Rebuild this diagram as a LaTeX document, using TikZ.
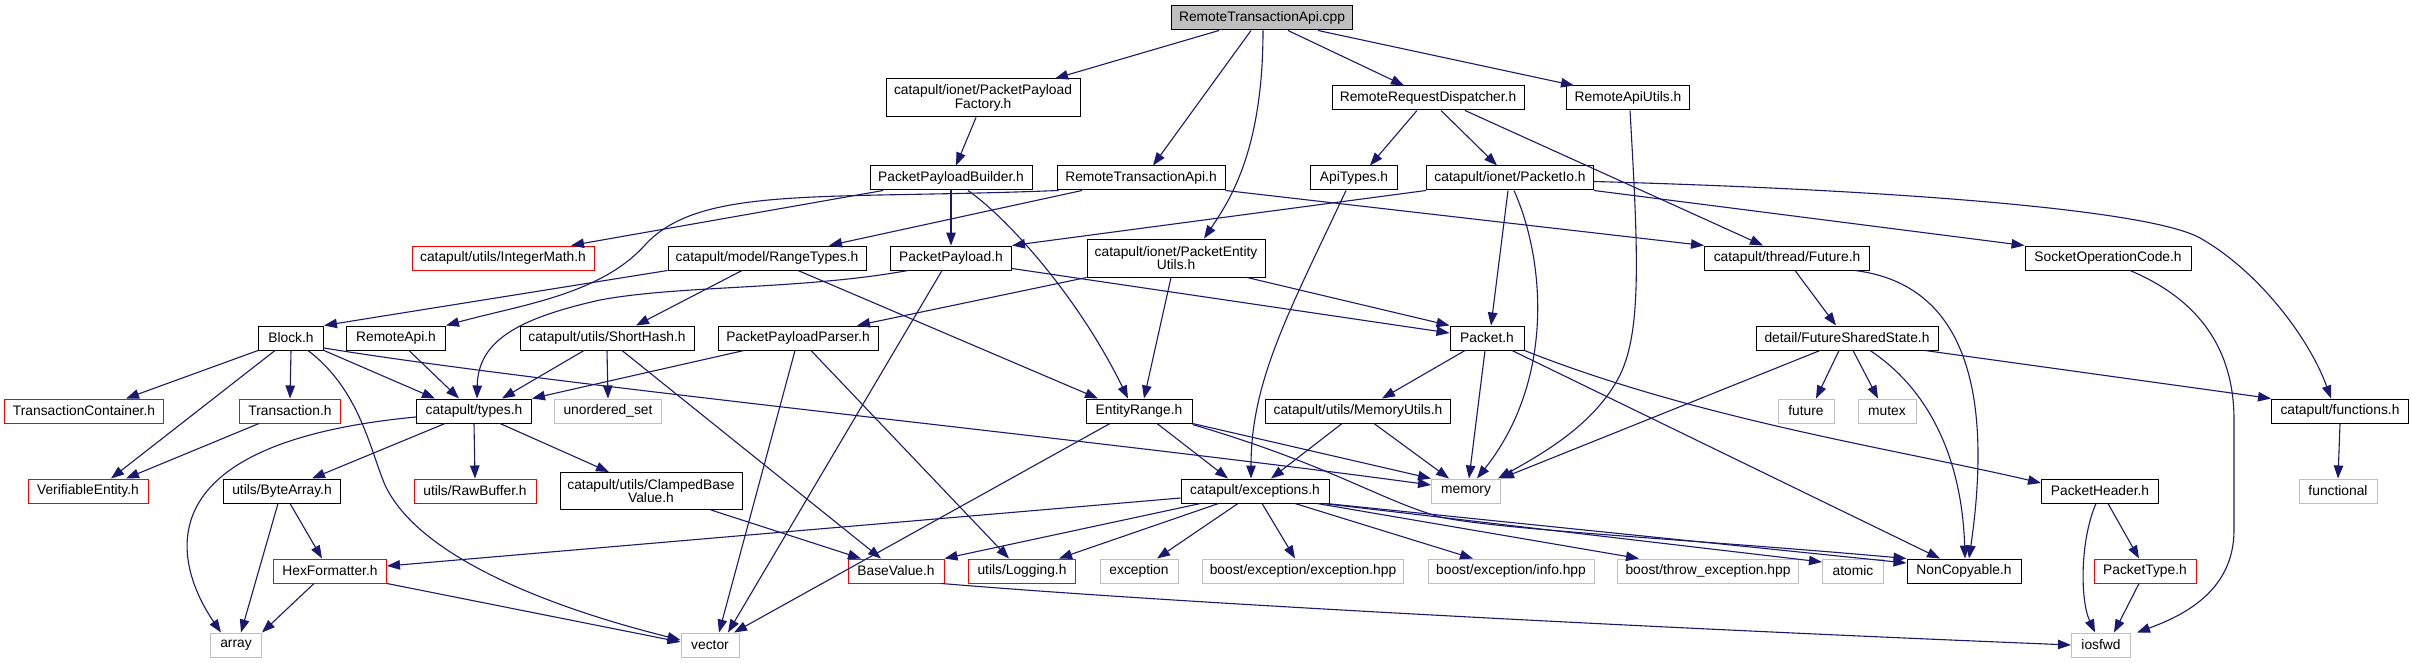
\documentclass[tikz,border=0pt]{standalone}
\usepackage{fontspec}
\setmainfont{Liberation Sans}
\usetikzlibrary{arrows.meta}
\definecolor{edgec}{RGB}{25,25,112}
\definecolor{greyb}{RGB}{191,191,191}
\tikzset{
  box/.style={draw=black, fill=white, line width=1pt, rectangle, inner sep=0pt,
    minimum height=24pt, align=center, font=\fontsize{13.8pt}{13.8pt}\selectfont},
  redbox/.style={box, draw=red},
  greybox/.style={box, draw=greyb},
  rootbox/.style={box, fill=greyb},
  e/.style={draw=edgec, line width=1.1pt, -{Triangle[length=13pt,width=9.5pt]}}
}
\begin{document}
\begin{tikzpicture}[x=1pt,y=-1pt]
\fill[white] (0,0) rectangle (2411,663);
\useasboundingbox (0,0) rectangle (2411,663);
% row 1
\node[rootbox, minimum width=181pt] (root) at (1262,18) {RemoteTransactionApi.cpp};
% row 2
\node[box, minimum width=194pt, minimum height=38pt] (fac) at (983,98) {catapult/ionet/PacketPayload\\Factory.h};
\node[box, minimum width=192pt] (rrd) at (1428,98) {RemoteRequestDispatcher.h};
\node[box, minimum width=123pt] (rau) at (1628,98) {RemoteApiUtils.h};
% row 3
\node[box, minimum width=162pt] (ppb) at (951,178) {PacketPayloadBuilder.h};
\node[box, minimum width=168pt] (rtah) at (1141,178) {RemoteTransactionApi.h};
\node[box, minimum width=87pt] (apit) at (1354,178) {ApiTypes.h};
\node[box, minimum width=167pt] (pio) at (1510,178) {catapult/ionet/PacketIo.h};
% row 4
\node[redbox, minimum width=182pt] (imath) at (503,258) {catapult/utils/IntegerMath.h};
\node[box, minimum width=198pt] (rtypes) at (767,258) {catapult/model/RangeTypes.h};
\node[box, minimum width=121pt] (pp) at (951,258) {PacketPayload.h};
\node[box, minimum width=178pt, minimum height=38pt] (peu) at (1176,258) {catapult/ionet/PacketEntity\\Utils.h};
\node[box, minimum width=165pt] (fut) at (1787,258) {catapult/thread/Future.h};
\node[box, minimum width=166pt] (soc) at (2108,258) {SocketOperationCode.h};
% row 5
\node[box, minimum width=65pt] (block) at (291,338) {Block.h};
\node[box, minimum width=99pt] (rapi) at (396,338) {RemoteApi.h};
\node[box, minimum width=174pt] (shash) at (607,338) {catapult/utils/ShortHash.h};
\node[box, minimum width=160pt] (ppp) at (798,338) {PacketPayloadParser.h};
\node[box, minimum width=74pt] (pkt) at (1487,338) {Packet.h};
\node[box, minimum width=182pt] (fss) at (1847,338) {detail/FutureSharedState.h};
% row 6
\node[redbox, minimum width=159pt] (tcont) at (84,411) {TransactionContainer.h};
\node[redbox, minimum width=101pt] (trans) at (290,411) {Transaction.h};
\node[box, minimum width=115pt] (types) at (474,411) {catapult/types.h};
\node[greybox, minimum width=107pt] (uset) at (608,411) {unordered\_set};
\node[box, minimum width=106pt] (erange) at (1139,411) {EntityRange.h};
\node[box, minimum width=185pt] (mutils) at (1358,411) {catapult/utils/MemoryUtils.h};
\node[greybox, minimum width=56pt] (future) at (1806,411) {future};
\node[greybox, minimum width=58pt] (mutex) at (1887,411) {mutex};
\node[box, minimum width=137pt] (funcs) at (2340,411) {catapult/functions.h};
% row 7
\node[redbox, minimum width=120pt] (ventity) at (88,491) {VerifiableEntity.h};
\node[box, minimum width=117pt] (barr) at (282,491) {utils/ByteArray.h};
\node[redbox, minimum width=122pt] (rawbuf) at (475,491) {utils/RawBuffer.h};
\node[box, minimum width=182pt, minimum height=37pt] (clamp) at (651,491) {catapult/utils/ClampedBase\\Value.h};
\node[box, minimum width=148pt] (exc) at (1255,491) {catapult/exceptions.h};
\node[greybox, minimum width=69pt] (memory) at (1466,491) {memory};
\node[box, minimum width=117pt] (phdr) at (2100,491) {PacketHeader.h};
\node[greybox, minimum width=78pt] (functional) at (2338,491) {functional};
% row 8
\node[redbox, minimum width=113pt] (hexf) at (330,571) {HexFormatter.h};
\node[redbox, minimum width=96pt] (bval) at (896,571) {BaseValue.h};
\node[redbox, minimum width=107pt] (logg) at (1022,571) {utils/Logging.h};
\node[greybox, minimum width=78pt] (excp) at (1139,571) {exception};
\node[greybox, minimum width=201pt] (bee) at (1303,571) {boost/exception/exception.hpp};
\node[greybox, minimum width=166pt] (bei) at (1511,571) {boost/exception/info.hpp};
\node[greybox, minimum width=181pt] (bte) at (1708,571) {boost/throw\_exception.hpp};
\node[greybox, minimum width=61pt] (atomic) at (1853,571) {atomic};
\node[box, minimum width=114pt] (noncopy) at (1964,571) {NonCopyable.h};
\node[redbox, minimum width=102pt] (ptype) at (2145,571) {PacketType.h};
% row 9
\node[greybox, minimum width=51pt] (array) at (236,645) {array};
\node[greybox, minimum width=58pt] (vector) at (710,645) {vector};
\node[greybox, minimum width=59pt] (iosfwd) at (2101,645) {iosfwd};

% edges
\draw[e] ([xshift=-43pt]root.south) -- ([xshift=72pt]fac.north);
\draw[e] ([xshift=-11pt]root.south) -- ([xshift=12pt]rtah.north);
\draw[e] ([xshift=1pt]root.south) .. controls (1263,150) and (1230,200) .. ([xshift=28pt]peu.north);
\draw[e] ([xshift=26pt]root.south) -- ([xshift=-24pt]rrd.north);
\draw[e] ([xshift=56pt]root.south) -- ([xshift=-54pt]rau.north);
\draw[e] ([xshift=-7pt]fac.south) -- ([xshift=5pt]ppb.north);
\draw[e] ([xshift=-11pt]rrd.south) -- ([xshift=16pt]apit.north);
\draw[e] ([xshift=13pt]rrd.south) -- ([xshift=-13pt]pio.north);
\draw[e] ([xshift=37pt]rrd.south) -- ([xshift=-24pt]fut.north);
\draw[e] ([xshift=2pt]rau.south) .. controls (1638,250) and (1642,330) .. (1620,375) .. controls (1595,425) and (1540,455) .. ([xshift=-3pt]memory.north east);
\draw[e] ([xshift=-68pt]ppb.south) -- ([xshift=68pt]imath.north);
\draw[e] (ppb.south) -- (pp.north);
\draw[e] ([xshift=17pt]ppb.south) .. controls (1010,220) and (1080,300) .. ([xshift=-11pt]erange.north);
\draw[e] ([xshift=2pt]rtah.south west) .. controls (820,200) and (700,185) .. (645,245) .. controls (600,295) and (520,305) .. (rapi.north east);
\draw[e] ([xshift=-59pt]rtah.south) -- ([xshift=62pt]rtypes.north);
\draw[e] (rtah.south east) -- (fut.north west);
\draw[e] (pio.south west) -- (pp.north east);
\draw[e] ([xshift=-2pt]pio.south) -- ([xshift=4pt]pkt.north);
\draw[e] ([xshift=4pt]pio.south) .. controls (1545,260) and (1555,380) .. ([xshift=11pt]memory.north);
\draw[e] (pio.south east) -- (soc.north west);
\draw[e] ([yshift=-3.5pt]pio.east) .. controls (1900,190) and (2150,210) .. (2200,238) .. controls (2260,272) and (2310,340) .. ([xshift=-9pt]funcs.north);
\draw[e] ([xshift=8pt]fut.south) -- ([xshift=-11pt]fss.north);
\draw[e] ([xshift=68pt]fut.south) .. controls (1970,285) and (1992,400) .. ([xshift=5pt]noncopy.north);
\draw[e] ([xshift=22pt]soc.south) .. controls (2200,300) and (2234,350) .. (2234,420) -- (2234,530) .. controls (2234,590) and (2185,615) .. ([xshift=6pt]iosfwd.north east);
\draw[e] (rtypes.south west) -- (block.north east);
\draw[e] ([xshift=-25pt]rtypes.south) -- ([xshift=29pt]shash.north);
\draw[e] ([xshift=31pt]rtypes.south) -- ([xshift=-41pt]erange.north);
\draw[e] ([xshift=-43pt]pp.south) .. controls (800,290) and (680,285) .. (600,300) .. controls (520,318) and (478,340) .. ([xshift=3pt]types.north);
\draw[e] ([xshift=-9pt]pp.south) -- ([xshift=18pt]vector.north);
\draw[e] ([yshift=2pt]pp.south east) -- ([yshift=5pt]pkt.west);
\draw[e] (peu.south west) -- ([xshift=59pt]ppp.north);
\draw[e] ([xshift=-5pt]peu.south) -- ([xshift=5pt]erange.north);
\draw[e] ([xshift=71pt]peu.south) -- (pkt.north west);
\draw[e] ([xshift=-8pt]apit.south) .. controls (1290,310) and (1251,380) .. ([xshift=-4pt]exc.north);
\draw[e] (block.south west) -- ([xshift=42pt]tcont.north);
\draw[e] ([xshift=-16pt]block.south) -- ([xshift=23pt]ventity.north);
\draw[e] (block.south) -- (trans.north);
\draw[e] (block.south east) -- ([xshift=-39pt]types.north);
\draw[e] ([xshift=17pt]block.south) .. controls (360,390) and (370,450) .. (385,485) .. controls (420,560) and (560,610) .. ([yshift=5pt]vector.west);
\draw[e] ([yshift=-10pt]block.east) .. controls (550,385) and (1100,440) .. ([yshift=6pt]memory.west);
\draw[e] ([xshift=13pt]rapi.south) -- ([xshift=-15pt]types.north);
\draw[e] ([xshift=-23pt]shash.south) -- ([xshift=28pt]types.north);
\draw[e] (shash.south) -- (uset.north);
\draw[e] ([xshift=15pt]shash.south) -- ([xshift=-15pt]bval.north);
\draw[e] ([xshift=-54pt]ppp.south) -- (types.north east);
\draw[e] ([xshift=-3pt]ppp.south) -- ([xshift=9pt]vector.north);
\draw[e] ([xshift=13pt]ppp.south) -- ([xshift=-13pt]logg.north);
\draw[e] ([xshift=-29pt]erange.south) -- ([xshift=24pt]vector.north);
\draw[e] ([xshift=18pt]erange.south) -- ([xshift=-27pt]exc.north);
\draw[e] (erange.south east) -- (memory.north west);
\draw[e] ([yshift=-1pt]erange.south east) .. controls (1330,465) and (1380,500) .. (1440,517) .. controls (1500,530) and (1700,540) .. (noncopy.north west);
\draw[e] ([xshift=-16pt]mutils.south) -- ([xshift=16pt]exc.north);
\draw[e] ([xshift=16pt]mutils.south) -- ([xshift=-17pt]memory.north);
\draw[e] ([xshift=-22pt]pkt.south) -- ([xshift=24pt]mutils.north);
\draw[e] ([xshift=-2pt]pkt.south) -- ([xshift=3pt]memory.north);
\draw[e] ([xshift=25pt]pkt.south) -- ([xshift=-24pt]noncopy.north);
\draw[e] (pkt.south east) .. controls (1700,420) and (1900,450) .. ([yshift=8pt]phdr.west);
\draw[e] ([xshift=-8pt]fss.south) -- ([xshift=10pt]future.north);
\draw[e] ([xshift=6pt]fss.south) -- ([xshift=-9pt]mutex.north);
\draw[e] ([xshift=23pt]fss.south) .. controls (1930,390) and (1962,460) .. ([xshift=1pt]noncopy.north);
\draw[e] ([xshift=78pt]fss.south) -- (funcs.north west);
\draw[e] ([xshift=-27pt]fss.south) -- (memory.north east);
\draw[e] (funcs.south) -- (functional.north);
\draw[e] ([xshift=-31pt]trans.south) -- ([xshift=38pt]ventity.north);
\draw[e] ([yshift=-6pt]types.west) .. controls (120,445) and (185,580) .. ([xshift=-15pt]array.north);
\draw[e] ([xshift=-29pt]types.south) -- ([xshift=30pt]barr.north);
\draw[e] (types.south) -- (rawbuf.north);
\draw[e] ([xshift=26pt]types.south) -- ([xshift=-42pt]clamp.north);
\draw[e] ([xshift=-4pt]barr.south) -- ([xshift=5pt]array.north);
\draw[e] ([xshift=8pt]barr.south) -- ([xshift=-8pt]hexf.north);
\draw[e] ([xshift=-16pt]hexf.south) -- (array.north east);
\draw[e] (hexf.south east) -- ([yshift=3pt]vector.west);
\draw[e] ([xshift=60pt]clamp.south) -- ([xshift=-35pt]bval.north);
\draw[e] ([yshift=-7pt]exc.west) -- ([yshift=5pt]hexf.east);
\draw[e] ([xshift=20pt]exc.south west) -- (bval.north east);
\draw[e] ([xshift=38pt]exc.south west) -- ([xshift=37pt]logg.north);
\draw[e] ([xshift=-17pt]exc.south) -- ([xshift=18pt]excp.north);
\draw[e] ([xshift=7pt]exc.south) -- ([xshift=-8pt]bee.north);
\draw[e] ([xshift=40pt]exc.south) -- ([xshift=-38pt]bei.north);
\draw[e] ([xshift=62pt]exc.south) -- ([xshift=-69pt]bte.north);
\draw[e] ([xshift=68pt]exc.south) -- ([yshift=9pt]atomic.west);
\draw[e] ([xshift=71pt]exc.south) -- ([yshift=8pt]noncopy.west);
\draw[e] ([xshift=-3pt]bval.south east) .. controls (1200,605) and (1700,630) .. (iosfwd.west);
\draw[e] ([xshift=8pt]phdr.south) -- ([xshift=-6pt]ptype.north);
\draw[e] ([xshift=-4pt]phdr.south) .. controls (2080,540) and (2080,600) .. ([xshift=-6pt]iosfwd.north);
\draw[e] ([xshift=-6pt]ptype.south) -- ([xshift=13pt]iosfwd.north);
\end{tikzpicture}
\end{document}
